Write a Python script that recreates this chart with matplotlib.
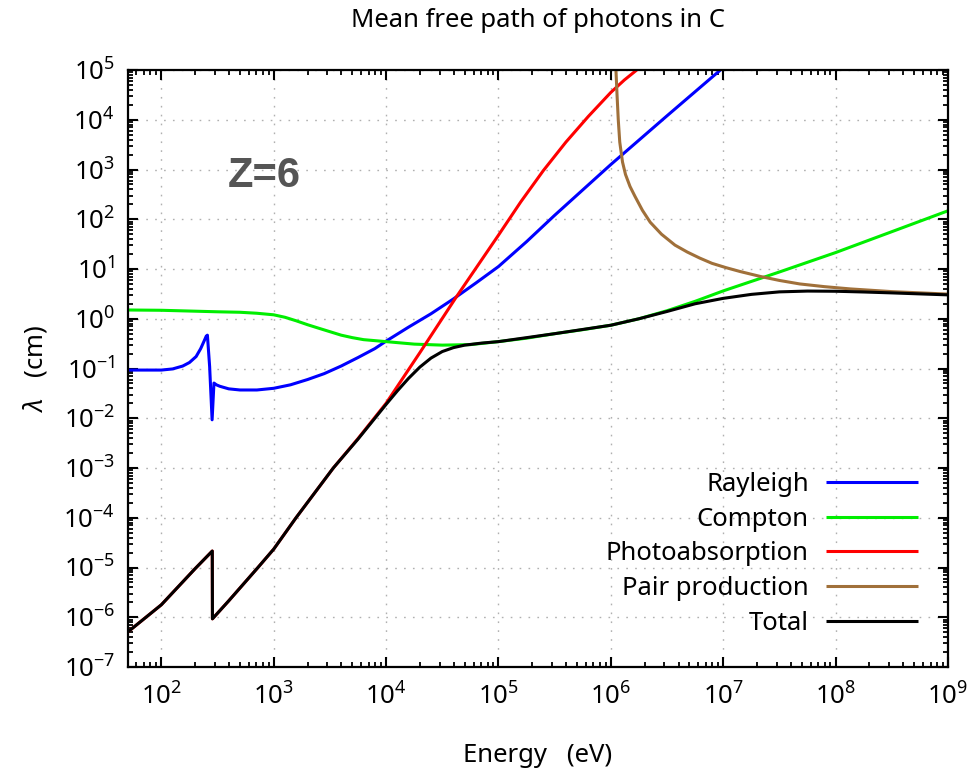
import numpy as np
import matplotlib
matplotlib.use("Agg")
import matplotlib.pyplot as plt
from matplotlib.ticker import FixedLocator, LogLocator, LogFormatterSciNotation, NullFormatter

plt.rcParams["font.family"] = ["Noto Sans", "DejaVu Sans"]
plt.rcParams["mathtext.fontset"] = "custom"
plt.rcParams["mathtext.rm"] = "Noto Sans"
plt.rcParams["mathtext.it"] = "Noto Sans:italic"
plt.rcParams["mathtext.bf"] = "Noto Sans:bold"
plt.rcParams["mathtext.default"] = "regular"

# Mean free path (cm) of photons in carbon, by interaction type; energy in eV
rayleigh_E = [50, 100, 126, 155, 178, 204, 224, 240, 251, 257, 269, 283, 294, 309,
              331, 355, 398, 501, 708, 1000, 1410, 2000, 2820, 3980, 5620, 7940,
              1.0e4, 1.58e4, 2.51e4, 3.98e4, 6.31e4, 1.0e5, 1.78e5, 3.16e5, 1.0e6,
              3.16e6, 9.44e6]
rayleigh_L = [0.093, 0.093, 0.098, 0.112, 0.132, 0.174, 0.251, 0.355, 0.447, 0.468,
              0.110, 0.0093, 0.051, 0.047, 0.044, 0.042, 0.039, 0.037, 0.037, 0.040,
              0.047, 0.060, 0.079, 0.112, 0.166, 0.251, 0.355, 0.676, 1.26, 2.51,
              5.25, 11.2, 35.5, 120, 1260, 12000, 1.0e5]

compton_E = [50, 100, 316, 501, 708, 1000, 1260, 1580, 2000, 2510, 3160, 3980, 5010,
             6310, 1.0e4, 1.78e4, 3.16e4, 5.62e4, 1.0e5, 1.78e5, 3.16e5, 5.62e5,
             1.0e6, 1.78e6, 3.16e6, 5.62e6, 1.0e7, 3.16e7, 1.0e8, 3.16e8, 1.0e9]
compton_L = [1.50, 1.48, 1.38, 1.35, 1.29, 1.20, 1.07, 0.912, 0.759, 0.646, 0.550,
             0.468, 0.417, 0.380, 0.347, 0.309, 0.295, 0.302, 0.347, 0.407, 0.501,
             0.603, 0.741, 1.0, 1.45, 2.24, 3.63, 8.71, 21.4, 56.2, 148]

photo_E = [50, 100, 200, 284, 285, 398, 724, 1000, 1580, 3390, 5620, 1.0e4, 2.0e4,
           4.22e4, 1.0e5, 1.58e5, 2.51e5, 3.98e5, 6.31e5, 1.0e6, 1.32e6, 1.70e6]
photo_L = [5.0e-7, 1.78e-6, 9.5e-6, 2.14e-5, 9.3e-7, 2.14e-6, 1.0e-5, 2.34e-5,
           1.0e-4, 1.0e-3, 3.9e-3, 0.020, 0.209, 2.75, 47.9, 224, 955, 3550, 11700,
           35500, 63100, 1.0e5]

pair_E = [1.11e6, 1.135e6, 1.164e6, 1.20e6, 1.27e6, 1.35e6, 1.48e6, 1.64e6, 1.91e6,
          2.24e6, 2.82e6, 3.72e6, 4.79e6, 6.17e6, 7.94e6, 1.05e7, 1.41e7, 2.14e7,
          3.16e7, 4.79e7, 7.94e7, 1.35e8, 3.16e8, 1.0e9]
pair_L = [1.0e5, 3.16e4, 1.0e4, 3550, 1410, 794, 457, 288, 151, 87.1, 50.1, 30.2,
          21.9, 16.6, 13.0, 10.7, 8.91, 7.08, 5.89, 5.01, 4.42, 3.98, 3.51, 3.13]

total_E = [50, 100, 200, 284, 285, 398, 724, 1000, 1580, 3390, 5620, 1.0e4, 1.26e4,
           1.58e4, 2.0e4, 2.51e4, 3.16e4, 3.98e4, 5.01e4, 7.08e4, 1.0e5, 3.16e5,
           1.0e6, 1.78e6, 3.16e6, 5.62e6, 1.0e7, 1.78e7, 3.16e7, 5.62e7, 1.0e8,
           1.78e8, 3.16e8, 5.62e8, 1.0e9]
total_L = [5.0e-7, 1.78e-6, 9.5e-6, 2.14e-5, 9.3e-7, 2.14e-6, 1.0e-5, 2.34e-5,
           1.0e-4, 1.0e-3, 3.8e-3, 0.019, 0.0355, 0.063, 0.107, 0.162, 0.219, 0.263,
           0.295, 0.324, 0.347, 0.501, 0.741, 1.0, 1.40, 2.0, 2.57, 3.09, 3.47,
           3.60, 3.57, 3.45, 3.31, 3.16, 3.02]

series = [
    ("Rayleigh", rayleigh_E, rayleigh_L, "#0000ff"),
    ("Compton", compton_E, compton_L, "#00ee00"),
    ("Photoabsorption", photo_E, photo_L, "#ff0000"),
    ("Pair production", pair_E, pair_L, "#a0703a"),
    ("Total", total_E, total_L, "#000000"),
]

x_major = [1e2, 1e3, 1e4, 1e5, 1e6, 1e7, 1e8, 1e9]
y_major = [1e-7, 1e-6, 1e-5, 1e-4, 1e-3, 1e-2, 1e-1, 1e0, 1e1, 1e2, 1e3, 1e4, 1e5]

fig = plt.figure(figsize=(9.72, 7.73), dpi=100)
ax = fig.add_axes([127.5 / 972, 1 - 667 / 773, 820.5 / 972, 597 / 773])

for name, e, lam, col in series:
    ax.plot(e, lam, color=col, lw=2.2, label=name,
            solid_joinstyle="round", solid_capstyle="butt")

ax.set_xscale("log")
ax.set_yscale("log")
ax.set_xlim(50, 1e9)
ax.set_ylim(1e-7, 1e5)

ax.xaxis.set_major_locator(FixedLocator(x_major))
ax.yaxis.set_major_locator(FixedLocator(y_major))
ax.xaxis.set_minor_locator(LogLocator(base=10, subs=np.arange(2, 10), numticks=100))
ax.yaxis.set_minor_locator(LogLocator(base=10, subs=np.arange(2, 10), numticks=100))
ax.xaxis.set_major_formatter(LogFormatterSciNotation())
ax.yaxis.set_major_formatter(LogFormatterSciNotation())
ax.xaxis.set_minor_formatter(NullFormatter())
ax.yaxis.set_minor_formatter(NullFormatter())

ax.tick_params(which="both", direction="in", top=True, right=True, colors="black")
ax.tick_params(which="major", length=7.5, width=1.5, labelsize=18.5)
ax.tick_params(which="minor", length=3.8, width=1.3)
ax.tick_params(axis="x", which="major", pad=12)
ax.tick_params(axis="y", which="major", pad=9)
for s in ax.spines.values():
    s.set_linewidth(1.6)

ax.grid(True, which="major", color="#b0b0b0", lw=1.0, linestyle=(0, (1.2, 5.2)))
ax.set_axisbelow(True)

ax.set_title("Mean free path of photons in C", fontsize=18.5, pad=31)
ax.set_xlabel("Energy   (eV)", fontsize=18.5, labelpad=23)
ax.set_ylabel(r"$\mathit{\lambda}$   (cm)", fontsize=18.5, labelpad=10)

ax.text(0.1225, 0.822, "Z=6", transform=ax.transAxes, fontsize=30,
        fontweight="bold", color="#555555", family="Liberation Sans",
        ha="left", va="center")

ax.legend(loc="lower right", bbox_to_anchor=(0.9635, 0.052), markerfirst=False,
          frameon=False, fontsize=18.5, handlelength=3.6, handletextpad=0.65,
          labelspacing=0.38, borderaxespad=0, borderpad=0)

fig.savefig("out.png", dpi=100)
